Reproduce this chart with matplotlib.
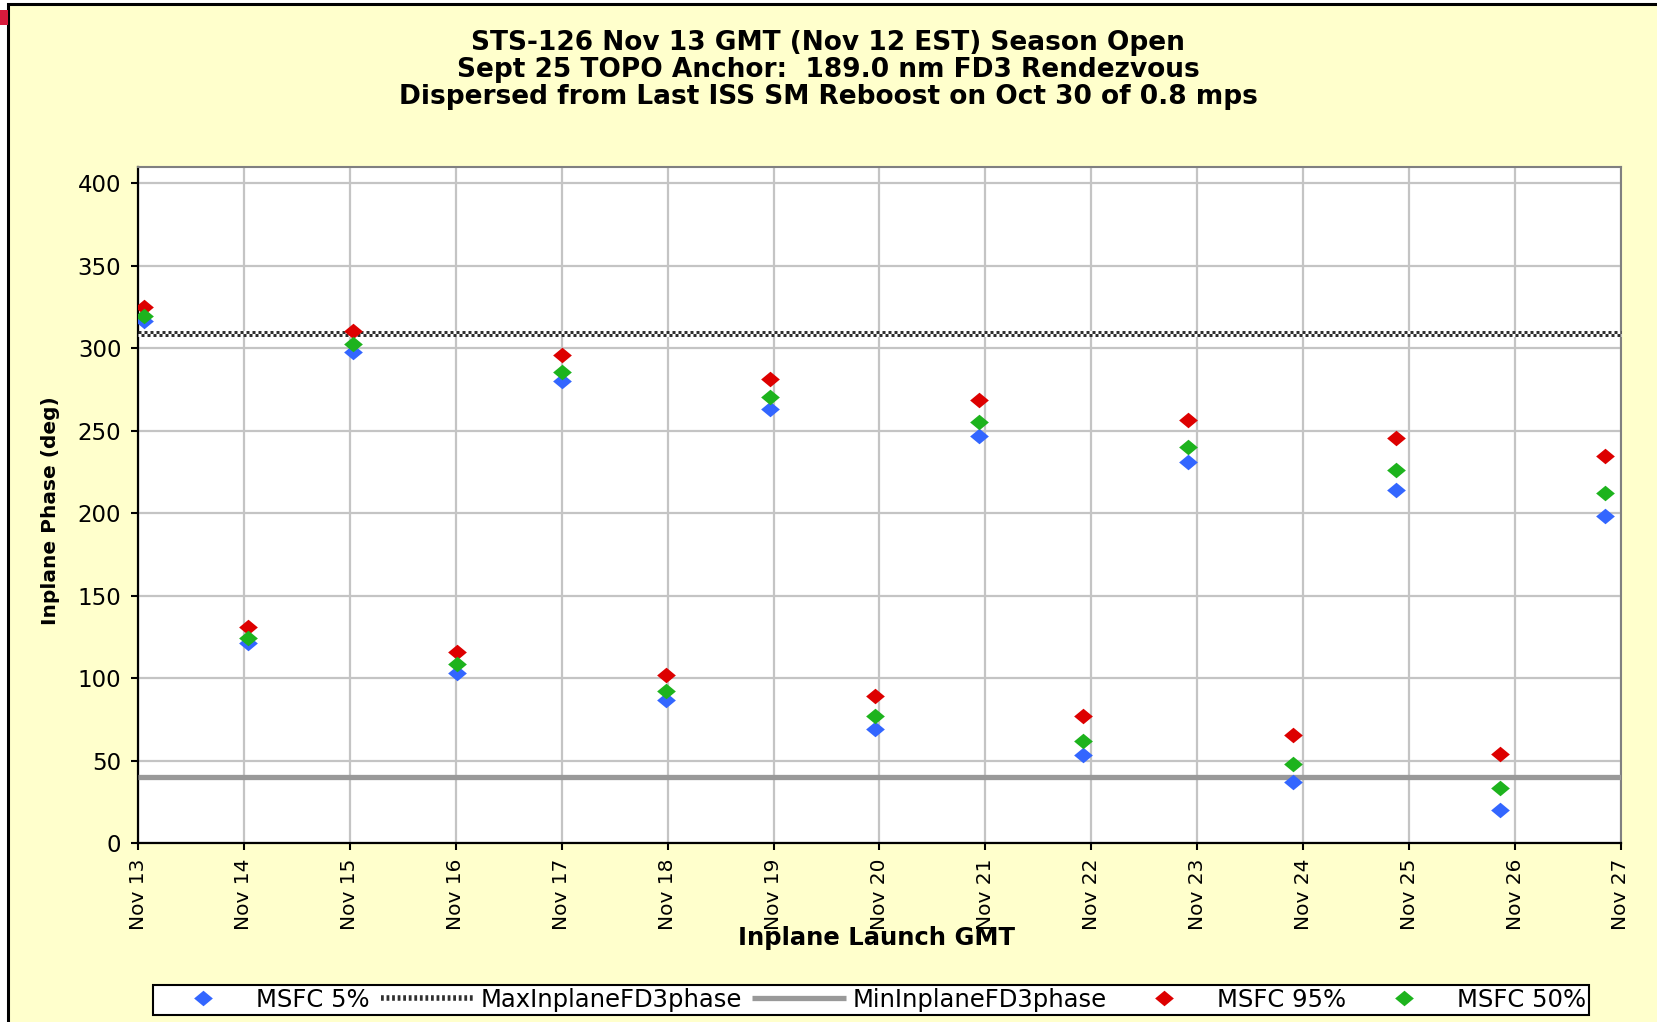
import matplotlib
matplotlib.use("Agg")
import matplotlib.pyplot as plt
from matplotlib.lines import Line2D
from matplotlib.patches import Rectangle
from matplotlib.transforms import offset_copy

plt.rcParams['font.family'] = ['DejaVu Sans']

# ---------------- data ----------------
launch_day = [13.06, 14.04, 15.03, 16.01, 17.00, 17.98, 18.97, 19.96,
              20.94, 21.92, 22.91, 23.90, 24.88, 25.86, 26.85]
msfc_5 = [316.3, 121.6, 297.9, 103.0, 280.3, 87.0, 263.5, 69.3,
          247.0, 53.1, 231.0, 37.1, 214.3, 20.2, 198.2]
msfc_50 = [319.7, 124.4, 302.6, 108.3, 285.6, 92.2, 270.8, 76.9,
           255.5, 62.0, 240.2, 48.0, 226.5, 33.6, 212.4]
msfc_95 = [325.2, 131.3, 310.3, 115.9, 295.7, 101.9, 281.6, 89.0,
           268.8, 76.9, 256.6, 65.3, 245.7, 54.2, 234.9]
max_phase = 309.0
min_phase = 40.0

x_ticks = list(range(13, 28))
x_tick_labels = [f"Nov {d}" for d in x_ticks]
y_ticks = list(range(0, 401, 50))

title_lines = ["STS-126 Nov 13 GMT (Nov 12 EST) Season Open",
               "Sept 25 TOPO Anchor:  189.0 nm FD3 Rendezvous",
               "Dispersed from Last ISS SM Reboost on Oct 30 of 0.8 mps"]

# ---------------- figure ----------------
W, H = 1658, 1022
fig = plt.figure(figsize=(W / 100, H / 100), dpi=100, facecolor='white')

# yellow chart panel with black border
panel = Rectangle((8 / W, -0.05), 1.2, 1 - 4 / H + 0.05, transform=fig.transFigure,
                  facecolor='#FFFFCC', edgecolor='black', linewidth=2.2, zorder=-2)
fig.patches.append(panel)
fig.patches.append(Rectangle((0, 1 - 25 / H), 8 / W, 15 / H, transform=fig.transFigure,
                             facecolor='#D81A3C', edgecolor='none', zorder=-1))

ax = fig.add_axes([138 / W, 1 - 843 / H, (1621 - 138) / W, (843 - 167) / H])
ax.set_zorder(2)
ax.set_facecolor('white')
ax.set_xlim(13, 27)
ax.set_ylim(0, 410)

ax.set_xticks(x_ticks)
ax.set_xticklabels(x_tick_labels, rotation=90, fontsize=14.5)
ax.set_yticks(y_ticks)
ax.set_yticklabels([str(v) for v in y_ticks], fontsize=16.5)
ax.grid(True, color='#C4C4C4', linewidth=1.6, zorder=0)
ax.set_axisbelow(True)
ax.tick_params(axis='y', direction='out', length=5, width=1.5, pad=7, color='black')
ax.tick_params(axis='x', direction='out', length=5, width=1.5, pad=6, color='black')
for side in ('left', 'bottom'):
    ax.spines[side].set_color('black')
    ax.spines[side].set_linewidth(1.6)
for side in ('top', 'right'):
    ax.spines[side].set_color('#808080')
    ax.spines[side].set_linewidth(1.5)

# max line (checkered) : two offset rows of alternating dashes
t_up = offset_copy(ax.transData, fig=fig, x=0, y=1.5, units='dots')
t_dn = offset_copy(ax.transData, fig=fig, x=0, y=-1.5, units='dots')
ax.plot([13, 27], [max_phase, max_phase], transform=t_up, color='#303030',
        gapcolor='white', linewidth=2.16, linestyle=(0, (1, 1)), zorder=3,
        solid_capstyle='butt', dash_capstyle='butt', clip_on=False)
ax.plot([13, 27], [max_phase, max_phase], transform=t_dn, color='#303030',
        gapcolor='white', linewidth=2.16, linestyle=(1, (1, 1)), zorder=3,
        solid_capstyle='butt', dash_capstyle='butt', clip_on=False)
# min line
ax.plot([13, 27], [min_phase, min_phase], color='#999999', linewidth=3.8,
        zorder=3, solid_capstyle='butt')

diamond = [(-1, 0), (0, 0.83), (1, 0), (0, -0.83), (-1, 0)]
c_blue, c_red, c_green = '#3366FF', '#DD0000', '#1DB31D'
ms = 13.5
ax.plot(launch_day, msfc_5, linestyle='none', marker=diamond, markersize=ms,
        color=c_blue, markeredgewidth=0, zorder=4)
ax.plot(launch_day, msfc_95, linestyle='none', marker=diamond, markersize=ms,
        color=c_red, markeredgewidth=0, zorder=4)
ax.plot(launch_day, msfc_50, linestyle='none', marker=diamond, markersize=ms,
        color=c_green, markeredgewidth=0, zorder=4)

# titles and axis labels
for txt, ypx in zip(title_lines, [43.5, 70, 96.5]):
    fig.text(828 / W, 1 - ypx / H, txt, ha='center', va='center',
             fontsize=19, fontweight='bold')
fig.text(877 / W, 1 - 938 / H, "Inplane Launch GMT", ha='center', va='center',
         fontsize=17.5, fontweight='bold')
fig.text(51 / W, 1 - 511 / H, "Inplane Phase (deg)", ha='center', va='center',
         rotation=90, fontsize=14.5, fontweight='bold')

# legend
h_blue = Line2D([], [], linestyle='none', marker=diamond, markersize=ms,
                color=c_blue, markeredgewidth=0)
h_red = Line2D([], [], linestyle='none', marker=diamond, markersize=ms,
               color=c_red, markeredgewidth=0)
h_green = Line2D([], [], linestyle='none', marker=diamond, markersize=ms,
                 color=c_green, markeredgewidth=0)
h_max = Line2D([], [], color='#303030', gapcolor='white', linewidth=4,
               linestyle=(0, (0.5, 0.5)), dash_capstyle='butt')
h_min = Line2D([], [], color='#999999', linewidth=3.8, solid_capstyle='butt')
leg = fig.legend([h_blue, h_max, h_min, h_red, h_green],
                 ["MSFC 5%", "MaxInplaneFD3phase", "MinInplaneFD3phase",
                  "MSFC 95%", "MSFC 50%"],
                 loc='center', bbox_to_anchor=(871 / W, 1 - 1000 / H), ncol=5,
                 fontsize=17.5, frameon=True, fancybox=False, shadow=False,
                 handlelength=3.85, handletextpad=0.25, columnspacing=0.45,
                 borderpad=0.12, borderaxespad=0, edgecolor='black')
leg.get_frame().set_linewidth(1.5)
leg.get_frame().set_facecolor('white')
leg.get_frame().set_alpha(1)

fig.savefig("out.png", dpi=100, facecolor=fig.get_facecolor())
